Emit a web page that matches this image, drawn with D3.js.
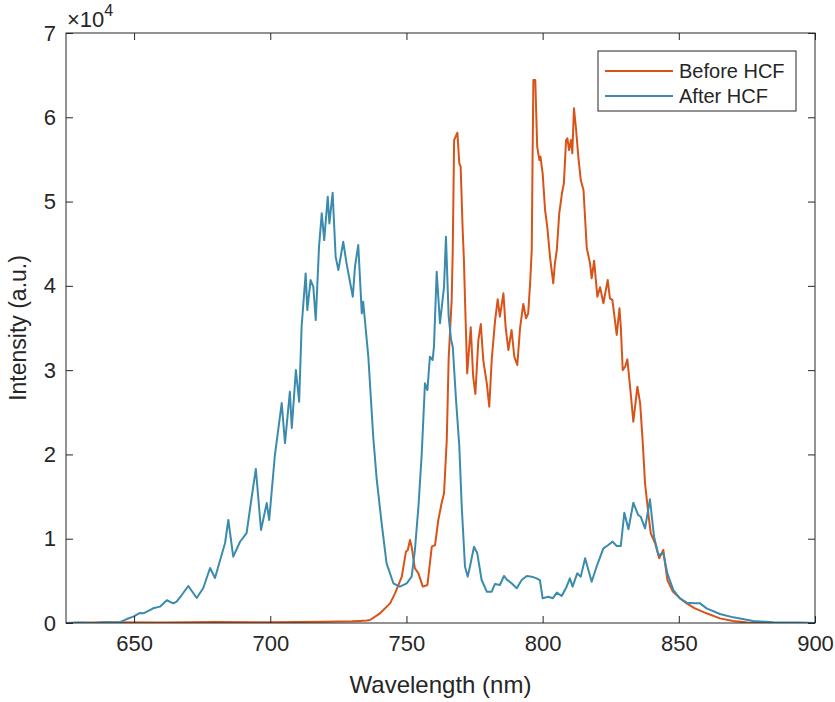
<!DOCTYPE html>
<html>
<head>
<meta charset="utf-8">
<script src="https://cdn.jsdelivr.net/npm/d3@7"></script>
<style>
	body { margin: 0; background: #fff; }
	text { font-family: 'Liberation Sans', Arial, sans-serif; fill: #262626; }
</style>
</head>
<body>
<div id="chart"></div>
<script>
// Before HCF spectrum (wavelength nm / counts)
const beforeWl = [625, 640, 660, 680, 700, 720, 730, 733, 735.4, 736.6, 740.3, 744, 745.8, 748.3, 749.8, 750.5, 751.3, 751.9, 753.1, 754.4, 756, 757.7, 759.3, 760.5, 761.7, 762.9, 763.8, 764.8, 765.5, 766.6, 767, 767.5, 768.7, 769.4, 769.9, 770.6, 771.1, 771.5, 772.3, 773.6, 774.5, 775.3, 776.4, 777.3, 778.2, 779.5, 780.4, 781.3, 782.5, 783.5, 784.3, 785.6, 786.4, 787.4, 788.6, 789.6, 790.7, 791.7, 792.9, 793.9, 794.7, 795.4, 796, 796.3, 796.6, 797.3, 798, 798.8, 799.2, 800, 800.9, 801.7, 802.7, 803.3, 803.9, 804.5, 805.2, 806.1, 807.1, 807.8, 808.6, 809.1, 809.7, 810.4, 810.9, 811.5, 812.3, 813.1, 814, 815, 816.2, 817.4, 818, 818.9, 820.1, 821.1, 822.3, 823.9, 824.7, 825.6, 826.6, 827.2, 828.2, 828.7, 829.4, 830.3, 831.1, 832.1, 833.3, 834.8, 835.8, 836.7, 837.6, 838.8, 839.7, 841.3, 842.8, 844.3, 845.8, 847.8, 850.4, 852.9, 855.9, 860.2, 865.1, 870, 875, 880, 900];
const beforeInt = [0, 100, 50, 120, 80, 150, 200, 250, 300, 360, 1150, 2330, 3520, 5500, 8460, 8660, 9850, 9050, 6490, 5890, 4310, 4510, 9050, 9250, 12220, 14200, 15390, 21710, 31400, 38320, 44250, 57300, 58170, 54540, 54150, 47010, 43070, 38320, 29620, 35080, 29220, 27170, 33570, 35470, 31200, 28440, 25660, 31200, 35750, 38400, 36340, 39110, 35150, 32390, 34760, 31590, 30610, 34960, 37850, 36150, 36740, 40300, 44250, 54930, 64420, 64420, 56510, 54930, 55330, 53350, 49000, 47010, 43450, 41880, 40300, 42670, 44250, 48600, 50980, 52170, 57300, 57500, 56120, 57300, 55730, 61060, 58490, 55330, 52560, 51370, 44500, 42670, 40890, 42980, 38710, 39830, 37930, 40690, 38520, 38330, 35750, 34170, 37340, 35150, 30010, 30400, 31280, 28040, 23880, 28040, 26060, 21710, 16570, 13010, 10640, 9460, 7680, 8660, 5100, 3720, 2930, 2330, 1740, 1150, 550, 240, 50, 0, 0];

// After HCF spectrum
const afterWl = [625, 630, 635, 640, 642, 644.8, 647.3, 649.7, 652, 653.4, 655.8, 657, 659.5, 662, 664.4, 665.6, 667.5, 669.9, 673, 675.4, 677.9, 679.7, 683.4, 684.6, 686.4, 688.9, 691.3, 693.2, 694.7, 696.6, 698.7, 699.6, 701.7, 704.2, 705.4, 707.2, 707.9, 709.4, 710.6, 711.5, 713, 713.6, 714.8, 715.8, 716.7, 717.9, 718.9, 719.8, 721.1, 721.7, 722.9, 724, 725, 726.8, 728, 730.3, 731.1, 732.3, 733.6, 734.1, 736, 737.8, 739.1, 740.9, 742.7, 745.2, 747.6, 750.1, 751.9, 753.1, 754.4, 755.6, 756.8, 757.7, 758.6, 759.6, 760.1, 761.1, 762.3, 763.8, 764.5, 765.5, 766.4, 767, 768.2, 769.4, 770.3, 771.5, 772.5, 773.3, 774.8, 776, 777.6, 779.5, 781.3, 782.5, 784.3, 785.8, 787, 788.6, 790.5, 792.3, 794.2, 796, 797.8, 799, 800, 802.1, 803.7, 805.2, 807, 808.8, 810, 811, 812.7, 814, 815.6, 818, 819.8, 822.3, 824.1, 825.7, 827.2, 828.7, 830, 831.5, 833.3, 835.1, 836, 837.6, 839.4, 840.9, 842.5, 844.3, 845.8, 848, 850.4, 852.9, 855.9, 857.8, 860.2, 865.1, 870, 877.3, 884.7, 894, 900];
const afterInt = [0, 50, 0, 80, 60, 100, 470, 750, 1180, 1150, 1540, 1740, 1940, 2700, 2330, 2530, 3320, 4390, 2960, 4150, 6520, 5340, 9490, 12220, 7870, 9640, 10670, 14980, 18270, 11030, 14230, 12220, 19930, 26100, 21350, 27440, 23130, 30010, 26250, 35150, 41480, 37130, 40690, 39900, 35940, 44640, 48600, 45430, 50570, 47410, 51040, 43450, 41870, 45230, 42670, 38710, 42270, 44840, 36740, 38120, 31590, 22100, 16970, 11830, 7080, 4710, 4310, 4710, 5500, 8660, 13800, 20000, 28440, 27640, 31590, 31200, 32780, 41680, 35560, 39900, 45830, 36340, 33570, 32780, 26460, 21000, 13800, 6680, 5500, 6680, 9050, 8270, 5100, 3720, 3720, 4630, 4510, 5580, 5100, 4710, 4120, 5100, 5580, 5500, 5300, 5100, 2930, 3120, 2930, 3600, 3200, 4310, 5300, 4310, 5890, 5500, 7680, 4900, 6680, 8860, 9250, 9650, 9140, 9140, 13090, 11120, 14270, 12810, 12610, 11230, 14670, 10240, 8070, 8270, 5890, 3910, 2930, 2410, 2330, 2330, 1740, 1070, 670, 240, 80, 50, 0];

const xTicks = [650, 700, 750, 800, 850, 900];
const yTicks = [0, 10000, 20000, 30000, 40000, 50000, 60000, 70000];
const seriesNames = ['Before HCF', 'After HCF'];
const seriesColors = ['#d95319', '#3a8bae'];

const zip = (xs, ys) => xs.map((x, i) => ({ wl: x, val: ys[i] }));
const series = [zip(beforeWl, beforeInt), zip(afterWl, afterInt)];

const fullW = 835;
const fullH = 702;
const margin = { top: 33, right: 20, bottom: 79, left: 66 };
const width = fullW - margin.left - margin.right;
const height = fullH - margin.top - margin.bottom;
const axisColor = '#262626';
const fontSize = '22px';

const svg = d3
	.select('#chart')
	.append('svg')
	.attr('width', fullW)
	.attr('height', fullH)
	.append('g')
	.attr('transform', `translate(${margin.left}, ${margin.top})`);

const xScale = d3.scaleLinear().domain([ 625, 900 ]).range([ 0, width ]);
const yScale = d3.scaleLinear().domain([ 0, 70000 ]).range([ height, 0 ]);

svg.append('clipPath').attr('id', 'plotClip').append('rect').attr('width', width).attr('height', height);

// spectra, orange first so blue sits on top
const line = d3.line().x((d) => xScale(d.wl)).y((d) => yScale(d.val));

svg
	.append('g')
	.attr('clip-path', 'url(#plotClip)')
	.selectAll('path')
	.data(series)
	.join('path')
	.attr('d', line)
	.style('fill', 'none')
	.style('stroke', (d, i) => seriesColors[i])
	.style('stroke-width', 2)
	.style('stroke-linejoin', 'round');

// axes, ticks pointing inward on all four sides
const styleAxis = (g) => {
	g.select('.domain').remove();
	g.selectAll('line').style('stroke', axisColor);
	g.selectAll('text').style('font-size', fontSize).style('fill', axisColor).attr('font-family', null);
};

svg
	.append('g')
	.attr('transform', `translate(0, ${height})`)
	.call(d3.axisBottom(xScale).tickValues(xTicks).tickSizeInner(-7).tickSizeOuter(0).tickPadding(12))
	.call(styleAxis);

svg
	.append('g')
	.call(d3.axisTop(xScale).tickValues(xTicks).tickSizeInner(-7).tickSizeOuter(0).tickFormat(''))
	.call(styleAxis);

svg
	.append('g')
	.call(d3.axisLeft(yScale).tickValues(yTicks).tickSizeInner(-7).tickSizeOuter(0).tickPadding(10).tickFormat((d) => d / 10000))
	.call(styleAxis);

svg
	.append('g')
	.attr('transform', `translate(${width}, 0)`)
	.call(d3.axisRight(yScale).tickValues(yTicks).tickSizeInner(-7).tickSizeOuter(0).tickFormat(''))
	.call(styleAxis);

// box
svg
	.append('rect')
	.attr('width', width)
	.attr('height', height)
	.style('fill', 'none')
	.style('stroke', axisColor)
	.style('stroke-width', 1);

// exponent label
const expo = svg.append('text').attr('x', 1).attr('y', -6).style('font-size', fontSize);
expo.append('tspan').text('\u00d710');
expo.append('tspan').attr('dy', -11).style('font-size', '16px').text('4');

// axis titles
svg
	.append('text')
	.attr('x', width / 2)
	.attr('y', height + 70)
	.attr('text-anchor', 'middle')
	.style('font-size', '24px')
	.text('Wavelength (nm)');

svg
	.append('text')
	.attr('transform', `translate(${-40}, ${height / 2}) rotate(-90)`)
	.attr('text-anchor', 'middle')
	.style('font-size', '23px')
	.text('Intensity (a.u.)');

// legend
const legend = svg.append('g').attr('transform', 'translate(532, 18)');

legend
	.append('rect')
	.attr('width', 198)
	.attr('height', 60)
	.style('fill', '#fff')
	.style('stroke', axisColor)
	.style('stroke-width', 1);

const items = legend
	.selectAll('g.item')
	.data(seriesNames)
	.join('g')
	.attr('class', 'item')
	.attr('transform', (d, i) => `translate(0, ${20 + i * 25})`);

items
	.append('line')
	.attr('x1', 7)
	.attr('x2', 75)
	.style('stroke', (d, i) => seriesColors[i])
	.style('stroke-width', 2);

items
	.append('text')
	.attr('x', 81)
	.attr('dy', '0.35em')
	.style('font-size', '20px')
	.text((d) => d);
</script>
</body>
</html>
